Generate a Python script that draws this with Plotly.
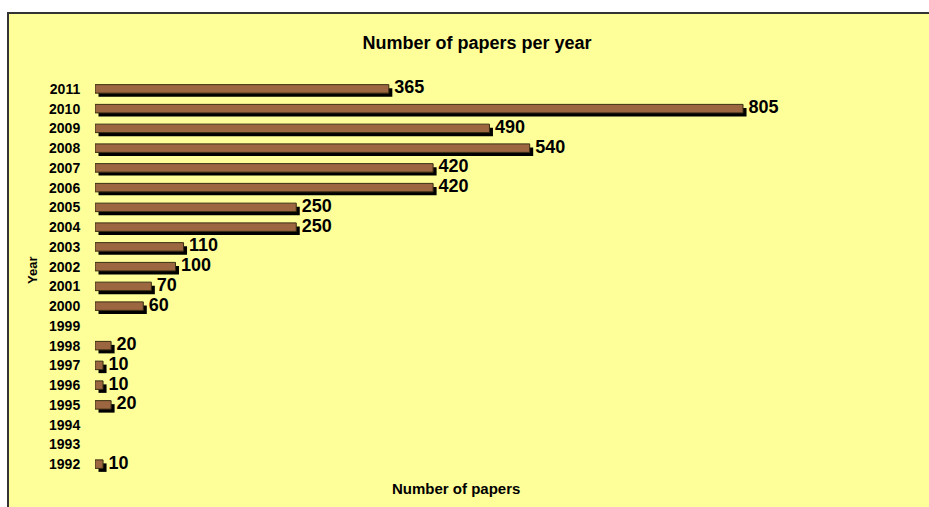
import plotly.graph_objects as go

years = ["2011", "2010", "2009", "2008", "2007", "2006", "2005", "2004", "2003", "2002",
         "2001", "2000", "1999", "1998", "1997", "1996", "1995", "1994", "1993", "1992"]
papers = [365, 805, 490, 540, 420, 420, 250, 250, 110, 100,
          70, 60, 0, 20, 10, 10, 20, 0, 0, 10]

labels = [str(v) if v > 0 else "" for v in papers]
vals = [v if v > 0 else None for v in papers]

W = 929
H = 507
L, R, T, B = 95, 29, 79, 33
pw = W - L - R
ph = H - T - B
XMAX = 1000.0
px_per_unit = pw / XMAX
row_px = ph / len(years)
bar_w = 8.5 / row_px
shadow_dx = 3.5 / px_per_unit
shadow_dy = 3.5 / row_px

fig = go.Figure()

# shadow
fig.add_trace(go.Bar(
    y=years, x=vals, orientation="h", base=shadow_dx,
    width=bar_w, offset=-bar_w / 2 + shadow_dy,
    marker=dict(color="#000000", line=dict(width=0)),
    hoverinfo="skip", showlegend=False,
))
# face
fig.add_trace(go.Bar(
    y=years, x=vals, orientation="h",
    width=bar_w, offset=-bar_w / 2,
    marker=dict(color="#9C6640", line=dict(color="#3A2E12", width=1)),
    showlegend=False,
))
# value labels
fig.add_trace(go.Scatter(
    y=years, x=[(v + shadow_dx + 2.0 / px_per_unit) if v > 0 else None for v in papers],
    mode="text", text=labels, textposition="middle right",
    textfont=dict(family="Arial, Liberation Sans, sans-serif", size=18, color="#000000"),
    texttemplate="<b>%{text}</b>",
    hoverinfo="skip", showlegend=False, cliponaxis=False,
))

fx0 = (8 - L) / pw
fy1 = (H - B - 13) / ph

fig.update_layout(
    width=W, height=H,
    margin=dict(l=L, r=R, t=T, b=B, autoexpand=False),
    paper_bgcolor="#FFFFFF",
    plot_bgcolor="rgba(0,0,0,0)",
    barmode="overlay",
    font=dict(family="Arial, Liberation Sans, sans-serif", color="#000000"),
    title=dict(text="<b>Number of papers per year</b>",
               x=(477 - L) / pw, xref="paper", xanchor="center",
               y=1 - 43 / H, yref="container", yanchor="middle",
               font=dict(size=18, color="#000000")),
    xaxis=dict(range=[0, XMAX], showticklabels=False, showgrid=False,
               zeroline=False, showline=False, ticks=""),
    yaxis=dict(range=[len(years) - 0.5, -0.5], autorange=False, type="category",
               showgrid=False, zeroline=False, showline=False,
               ticks="outside", ticklen=11, tickcolor="rgba(0,0,0,0)",
               tickfont=dict(size=14, color="#000000"),
               tickvals=years, ticktext=["<b>%s</b>" % y for y in years]),
    shapes=[dict(type="rect", xref="paper", yref="paper",
                 x0=fx0, x1=1.3, y0=-0.3, y1=fy1,
                 fillcolor="#FFFF99", line=dict(color="#333333", width=2),
                 layer="below")],
    annotations=[
        dict(text="<b>Number of papers</b>", xref="paper", yref="paper",
             x=(456 - L) / pw, y=-(488 - (H - B)) / ph,
             xanchor="center", yanchor="middle", showarrow=False,
             font=dict(size=15, color="#000000")),
        dict(text="<b>Year</b>", xref="paper", yref="paper",
             x=(32 - L) / pw, y=(H - B - 270) / ph, textangle=-90,
             xanchor="center", yanchor="middle", showarrow=False,
             font=dict(size=13, color="#000000")),
    ],
)

fig.write_html("out.html")
